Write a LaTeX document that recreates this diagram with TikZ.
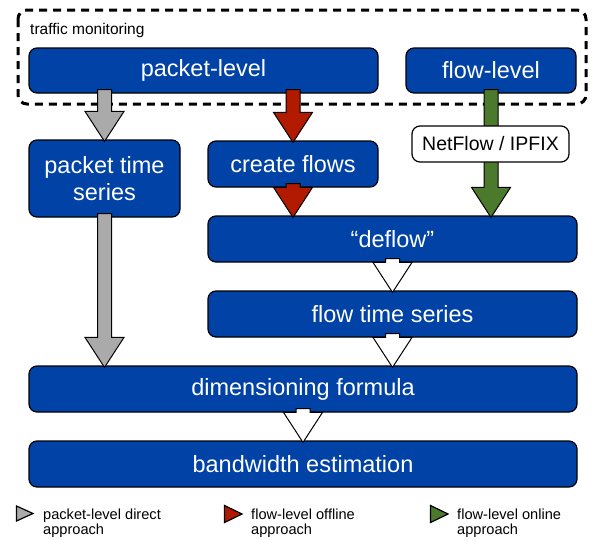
\documentclass[tikz,border=0pt]{standalone}
\usepackage{fontspec}
\setmainfont{Liberation Sans}
\usetikzlibrary{calc}
\definecolor{boxblue}{RGB}{0,66,166}
\definecolor{arrred}{RGB}{178,26,0}
\definecolor{arrgreen}{RGB}{76,122,44}
\definecolor{arrgray}{RGB}{170,170,170}
\tikzset{
  bluebox/.style={draw=black, line width=1.2pt, fill=boxblue, rounded corners=8pt,
    text=white, font=\fontsize{23.5}{27}\selectfont, align=center, inner sep=0pt},
  whitebox/.style={draw=black, line width=1.2pt, fill=white, rounded corners=8pt,
    text=black, font=\fontsize{19.5}{22}\selectfont, inner sep=0pt},
  blockarr/.style={draw=black, line width=1pt, line join=miter},
  legtext/.style={font=\fontsize{14.6}{15.5}\selectfont, align=left, anchor=north west, inner sep=0pt},
  tri/.style={draw=black, line width=1.2pt, line join=miter}
}
\newcommand\barr[3]{%
  \draw[blockarr, fill=#3] let \p1=(#1), \p2=(#2) in
   (\x1-7pt,\y1+4pt) -- (\x1-7pt,\y2+28pt) -- (\x1-19.5pt,\y2+28pt) -- (\x1,\y2-2pt)
   -- (\x1+19.5pt,\y2+28pt) -- (\x1+7pt,\y2+28pt) -- (\x1+7pt,\y1+4pt) -- cycle;}
\begin{document}
\begin{tikzpicture}[x=1pt,y=-1pt]
\path[use as bounding box, fill=white] (0,0) rectangle (592,539);
% traffic monitoring group
\draw[line width=3pt, dash pattern=on 8pt off 6pt, rounded corners=9pt] (18,10) rectangle (586,104);
\node[anchor=base west, inner sep=0pt, font=\fontsize{15.5}{18}\selectfont] (tm) at (30,34) {traffic monitoring};
% boxes
\node[bluebox, minimum width=349pt, minimum height=45pt] (pkt) at (203.5,70.5) {packet-level};
\node[bluebox, minimum width=170pt, minimum height=45pt] (fl) at (491,70.5) {flow-level};
\node[bluebox, minimum width=151pt, minimum height=77pt] (pts) at (104.5,178.5) {packet time\\series};
\node[bluebox, minimum width=170pt, minimum height=46pt] (cf) at (293,164) {create flows};
\node[bluebox, minimum width=369pt, minimum height=46pt] (defl) at (392.5,239) {``deflow''};
\node[bluebox, minimum width=369pt, minimum height=46pt] (fts) at (392.5,314) {flow time series};
\node[bluebox, minimum width=548pt, minimum height=46pt] (dim) at (303,389) {dimensioning formula};
\node[bluebox, minimum width=548pt, minimum height=46pt] (bw) at (303,464) {bandwidth estimation};
% arrows
\barr{pkt.south -| pts.north}{pts.north}{arrgray}
\barr{pts.south}{dim.north -| pts.south}{arrgray}
\barr{pkt.south -| cf.north}{cf.north}{arrred}
\barr{cf.south}{defl.north -| cf.south}{arrred}
\barr{fl.south}{defl.north -| fl.south}{arrgreen}
\barr{defl.south}{fts.north}{white}
\barr{fts.south}{dim.north -| fts.south}{white}
\barr{dim.south}{bw.north}{white}
\node[whitebox, minimum width=157pt, minimum height=36pt] (nf) at (490.5,144) {NetFlow / IPFIX};
% legend
\draw[tri, fill=arrgray] (16.5,506) -- (33,513.5) -- (16.5,521) -- cycle;
\node[legtext] (l1) at (43,508.5) {packet-level direct\\approach};
\draw[tri, fill=arrred] (224.5,505.5) -- (242,514) -- (224.5,522.5) -- cycle;
\node[legtext] (l2) at (251,508.5) {flow-level offline\\approach};
\draw[tri, fill=arrgreen] (430.5,505.5) -- (448,514) -- (430.5,522.5) -- cycle;
\node[legtext] (l3) at (457,508.5) {flow-level online\\approach};
\end{tikzpicture}
\end{document}
